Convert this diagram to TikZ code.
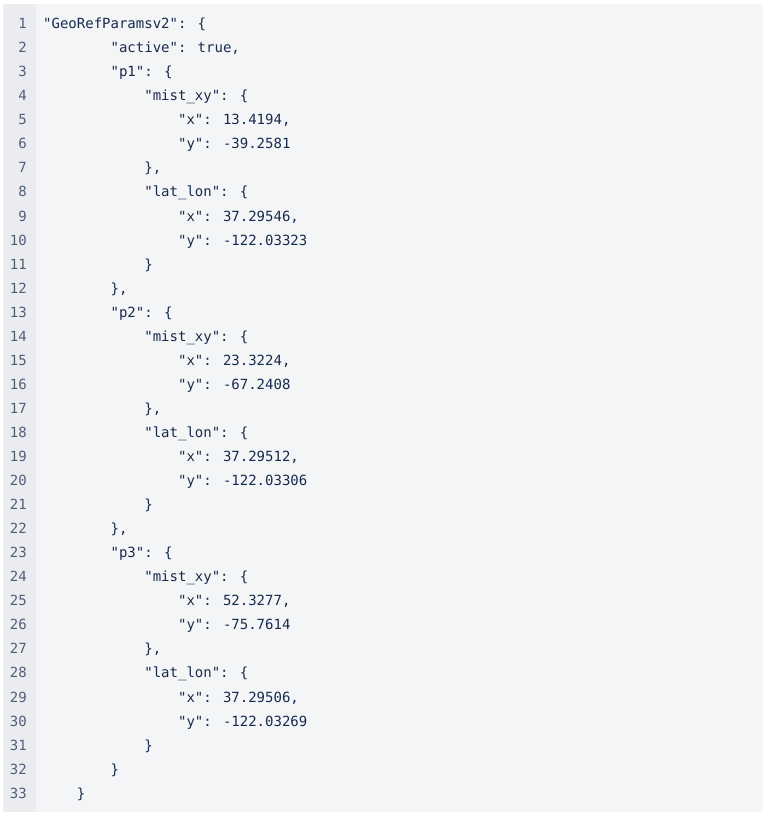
\documentclass[tikz,border=0pt]{standalone}
\usepackage{fontspec}
\newfontfamily\codefont{DejaVu Sans Mono}
\definecolor{codebg}{HTML}{F4F5F7}
\definecolor{gutterbg}{HTML}{EBECF0}
\definecolor{codefg}{HTML}{172B4D}
\definecolor{numfg}{HTML}{505F79}
\newcommand{\codeln}[3]{%
  \node[numstyle] (n#1) at (27,{28.6+(#1-1)*24.05}) {#1};
  \node[codestyle] (c#1) at ({43+#2*8.43},{28.6+(#1-1)*24.05}) {#3};}
\begin{document}
\begin{tikzpicture}[x=1pt,y=-1pt,
  numstyle/.style={anchor=base east,inner sep=0pt,text=numfg,font=\codefont\fontsize{14}{16}\selectfont},
  codestyle/.style={anchor=base west,inner sep=0pt,text=codefg,font=\codefont\fontsize{14}{16}\selectfont}]
\useasboundingbox (0,0) rectangle (768,817);
\begin{scope}
  \clip[rounded corners=3pt] (3,4) rectangle (763,812);
  \fill[codebg] (3,4) rectangle (763,812);
  \fill[gutterbg] (3,4) rectangle (36,812);
\end{scope}
\codeln{1}{0}{"GeoRefParamsv2": \{}
\codeln{2}{8}{"active": true,}
\codeln{3}{8}{"p1": \{}
\codeln{4}{12}{"mist\_xy": \{}
\codeln{5}{16}{"x": 13.4194,}
\codeln{6}{16}{"y": -39.2581}
\codeln{7}{12}{\},}
\codeln{8}{12}{"lat\_lon": \{}
\codeln{9}{16}{"x": 37.29546,}
\codeln{10}{16}{"y": -122.03323}
\codeln{11}{12}{\}}
\codeln{12}{8}{\},}
\codeln{13}{8}{"p2": \{}
\codeln{14}{12}{"mist\_xy": \{}
\codeln{15}{16}{"x": 23.3224,}
\codeln{16}{16}{"y": -67.2408}
\codeln{17}{12}{\},}
\codeln{18}{12}{"lat\_lon": \{}
\codeln{19}{16}{"x": 37.29512,}
\codeln{20}{16}{"y": -122.03306}
\codeln{21}{12}{\}}
\codeln{22}{8}{\},}
\codeln{23}{8}{"p3": \{}
\codeln{24}{12}{"mist\_xy": \{}
\codeln{25}{16}{"x": 52.3277,}
\codeln{26}{16}{"y": -75.7614}
\codeln{27}{12}{\},}
\codeln{28}{12}{"lat\_lon": \{}
\codeln{29}{16}{"x": 37.29506,}
\codeln{30}{16}{"y": -122.03269}
\codeln{31}{12}{\}}
\codeln{32}{8}{\}}
\codeln{33}{4}{\}}
\end{tikzpicture}
\end{document}
